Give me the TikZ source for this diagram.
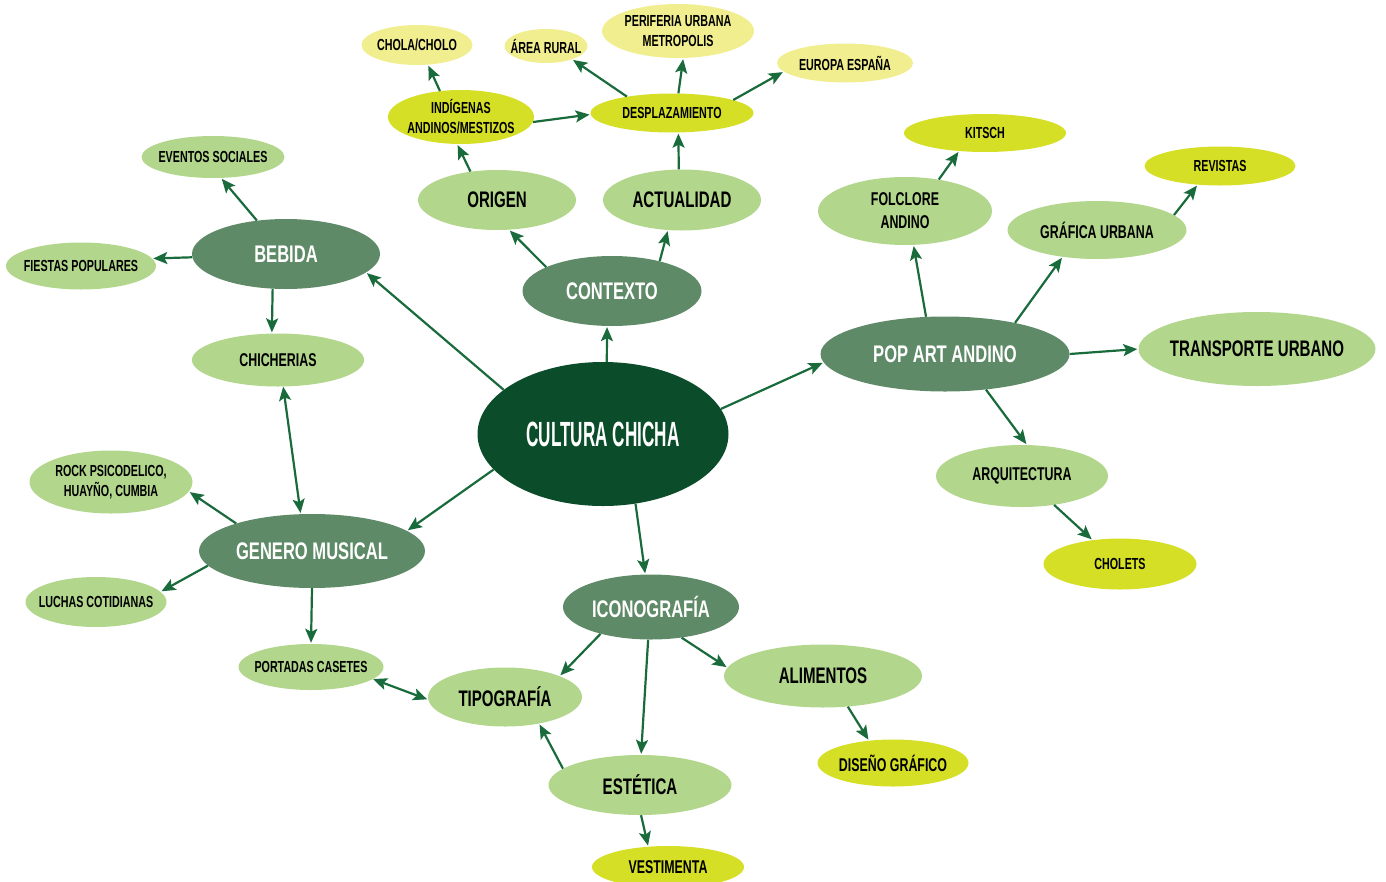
\documentclass[tikz,border=0pt]{standalone}
\usepackage{fontspec}
\setmainfont{Liberation Sans}
\newfontfamily\titlefont{Liberation Sans}[FakeStretch=0.49]
\newfontfamily\headfont{Liberation Sans}[FakeStretch=0.69]
\newfontfamily\labelfont{Liberation Sans}[FakeStretch=0.67]
\usetikzlibrary{arrows.meta, shapes.geometric}

\definecolor{chichadeep}{HTML}{0B4D2A}
\definecolor{chichamid}{HTML}{5E8A67}
\definecolor{chichalight}{HTML}{B1D68C}
\definecolor{chichalime}{HTML}{D5DF26}
\definecolor{chichapale}{HTML}{F1EE8F}
\definecolor{chichaarrow}{HTML}{196B3C}

\begin{document}
\begin{tikzpicture}[x=1pt,y=-1pt,->,>={Stealth[length=14pt,width=12pt,inset=3pt]},
  base node/.style={ellipse,inner xsep=-14pt,inner ysep=0pt,align=center},
  dims/.style 2 args={minimum width=#1pt,minimum height=#2pt},
  deep node/.style={base node,fill=chichadeep,text=white,font=\titlefont\bfseries\fontsize{35}{40}\selectfont},
  mid node/.style={base node,fill=chichamid,text=white,font=\headfont\bfseries\fontsize{24}{28}\selectfont},
  light node/.style={base node,fill=chichalight,text=black},
  lime node/.style={base node,fill=chichalime,text=black},
  pale node/.style={base node,fill=chichapale,text=black},
  big text/.style={font=\labelfont\bfseries\fontsize{22.5}{26}\selectfont},
  medium text/.style={font=\labelfont\bfseries\fontsize{18.5}{23}\selectfont},
  small text/.style={font=\labelfont\bfseries\fontsize{16}{20}\selectfont},
  link/.style={line width=2.2pt,draw=chichaarrow,shorten >=1pt}]
  \useasboundingbox (0,0) rectangle (1386,881);

  % center and contexto
  \node[deep node,dims={251}{144}] (chicha) at (603,434) {CULTURA CHICHA};
  \node[mid node,dims={179}{70}] (contexto) at (612,291) {CONTEXTO};
  \node[light node,big text,dims={158}{60}] (origen) at (497,200) {ORIGEN};
  \node[light node,big text,dims={158}{61}] (actualidad) at (682,200) {ACTUALIDAD};
  \node[lime node,small text,dims={146}{54}] (indigenas) at (461,117) {INDÍGENAS\\ANDINOS/MESTIZOS};
  \node[lime node,small text,dims={163}{39}] (desplaza) at (672,113) {DESPLAZAMIENTO};
  \node[pale node,small text,dims={111}{40}] (cholo) at (417,45) {CHOLA/CHOLO};
  \node[pale node,small text,dims={83}{34}] (rural) at (546,46) {ÁREA RURAL};
  \node[pale node,small text,dims={152}{54}] (periferia) at (678,31) {PERIFERIA URBANA\\METROPOLIS};
  \node[pale node,small text,dims={136}{39}] (europa) at (845,63) {EUROPA ESPAÑA};

  % bebida and genero musical
  \node[mid node,dims={188}{70}] (bebida) at (286,254) {BEBIDA};
  \node[light node,small text,dims={143}{42}] (eventos) at (213,157) {EVENTOS SOCIALES};
  \node[light node,small text,dims={150}{47}] (fiestas) at (81,266) {FIESTAS POPULARES};
  \node[light node,medium text,dims={172}{53}] (chicherias) at (278,360) {CHICHERIAS};
  \node[mid node,dims={226}{74}] (genero) at (312,551) {GENERO MUSICAL};
  \node[light node,small text,dims={163}{63}] (rock) at (111,482) {ROCK PSICODELICO,\\HUAYÑO, CUMBIA};
  \node[light node,small text,dims={141}{50}] (luchas) at (96,602) {LUCHAS COTIDIANAS};
  \node[light node,small text,dims={145}{46}] (portadas) at (311,667) {PORTADAS CASETES};

  % pop art andino
  \node[mid node,dims={249}{75}] (popart) at (945,354) {POP ART ANDINO};
  \node[light node,medium text,dims={174}{68}] (folclore) at (905,211) {FOLCLORE\\ANDINO};
  \node[lime node,small text,dims={162}{38}] (kitsch) at (985,133) {KITSCH};
  \node[light node,medium text,dims={179}{58}] (grafica) at (1097,230) {GRÁFICA URBANA};
  \node[lime node,small text,dims={151}{39}] (revistas) at (1220,166) {REVISTAS};
  \node[light node,big text,dims={237}{74}] (transporte) at (1257,349) {TRANSPORTE URBANO};
  \node[light node,medium text,dims={172}{62}] (arquitectura) at (1022,476) {ARQUITECTURA};
  \node[lime node,small text,dims={153}{51}] (cholets) at (1120,564) {CHOLETS};

  % iconografia
  \node[mid node,dims={176}{65}] (icono) at (651,607) {ICONOGRAFÍA};
  \node[light node,big text,dims={154}{59}] (tipografia) at (505,697) {TIPOGRAFÍA};
  \node[light node,big text,dims={198}{63}] (alimentos) at (823,676) {ALIMENTOS};
  \node[lime node,medium text,dims={151}{47}] (diseno) at (893,763) {DISEÑO GRÁFICO};
  \node[light node,big text,dims={183}{60}] (estetica) at (640,785) {ESTÉTICA};
  \node[lime node,medium text,dims={152}{42}] (vestimenta) at (668,867) {VESTIMENTA};

  \path[every edge/.append style=link]
    (chicha.87) edge (contexto.-98)
    (chicha.156) edge (bebida.-13)
    (chicha.198) edge (genero.12)
    (chicha.12) edge (popart.184)
    (chicha.-65) edge (icono.100)
    (contexto.160) edge (origen.-68)
    (contexto.32) edge (actualidad.-115)
    (origen.133) edge (indigenas.-98)
    (actualidad.96) edge (desplaza.-72)
    (indigenas.-4) edge (desplaza.181)
    (indigenas.129) edge (cholo.-61)
    (desplaza.160) edge (rural.-27)
    (desplaza.72) edge (periferia.-79)
    (desplaza.12) edge (europa.188)
    (bebida.131) edge (eventos.-69)
    (bebida.182) edge (fiestas.6)
    (bebida.-111) edge (chicherias.103)
    (chicherias.-79) edge[<->] (genero.107)
    (genero.160) edge (rock.-7)
    (genero.188) edge (luchas.9)
    (genero.-90) edge (portadas.90)
    (portadas.-11) edge[<->] (tipografia.182)
    (popart.117) edge (folclore.-76)
    (popart.24) edge (grafica.218)
    (popart.0) edge (transporte.180)
    (popart.-41) edge (arquitectura.81)
    (folclore.43) edge (kitsch.215)
    (grafica.11) edge (revistas.220)
    (arquitectura.-42) edge (cholets.139)
    (icono.-152) edge (tipografia.21)
    (icono.-95) edge (estetica.88)
    (icono.-45) edge (alimentos.175)
    (alimentos.-51) edge (diseno.137)
    (estetica.168) edge (tipografia.-38)
    (estetica.-88) edge (vestimenta.134);
\end{tikzpicture}
\end{document}
